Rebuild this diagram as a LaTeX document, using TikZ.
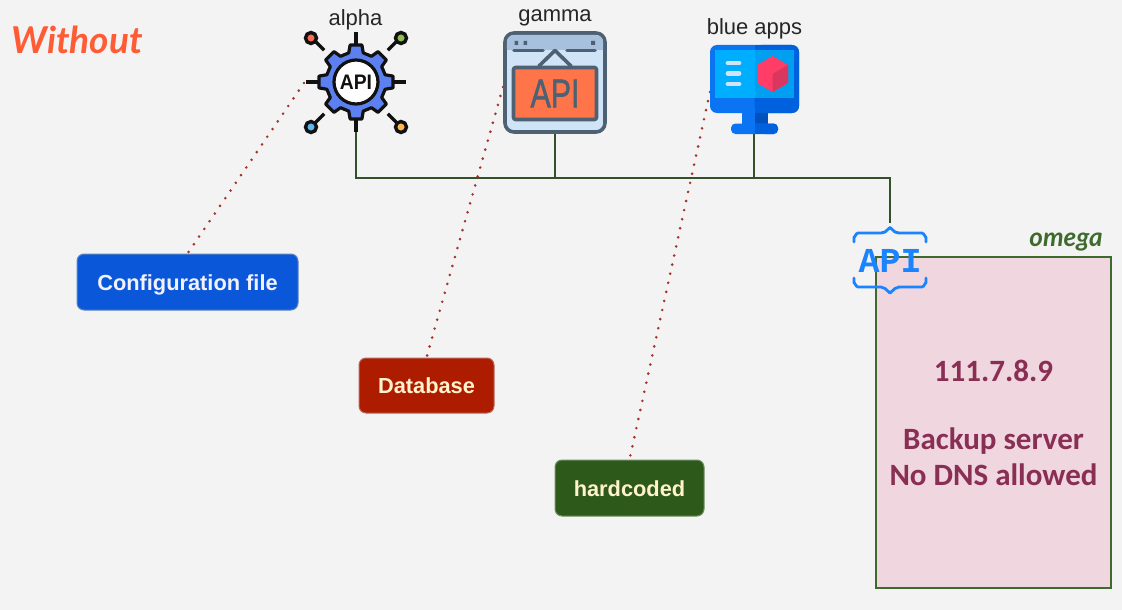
\documentclass[tikz,border=0pt]{standalone}
\usepackage{fontspec}
\setmainfont{Liberation Sans}
\newfontfamily\servfont{Carlito}
\newfontfamily\handfont{Lato}
\newfontfamily\apimono{Liberation Mono}
\newfontfamily\gamfont[FakeBold=1.6]{Liberation Sans}
\definecolor{bgc}{HTML}{F3F3F3}
\definecolor{linec}{HTML}{34502B}
\definecolor{dotc}{HTML}{A5332C}
\definecolor{gearblue}{HTML}{5C80F0}
\definecolor{ink}{HTML}{111111}
\definecolor{slatec}{HTML}{4E6172}
\definecolor{paleblue}{HTML}{CFE4F7}
\definecolor{headblue}{HTML}{A6C0DE}
\definecolor{apiorange}{HTML}{FF7549}
\definecolor{monblue}{HTML}{0A74F2}
\definecolor{mondark}{HTML}{0061DE}
\definecolor{neckdark}{HTML}{0050BE}
\definecolor{scrblue}{HTML}{00AEFF}
\definecolor{scrdark}{HTML}{009FF0}
\definecolor{cubered}{HTML}{FF3D66}
\definecolor{cubedark}{HTML}{D93660}
\definecolor{apiblue}{HTML}{1A84FF}
\definecolor{pinkbox}{HTML}{F0D6DE}
\definecolor{omegagreen}{HTML}{3F6A2E}
\definecolor{servtext}{HTML}{8A2F54}
\definecolor{creamtext}{HTML}{FFF2CC}
\definecolor{cfgfill}{HTML}{0B57D9}
\definecolor{cfgline}{HTML}{5F86C0}
\definecolor{dbfill}{HTML}{AE1C00}
\definecolor{dbline}{HTML}{B5695C}
\definecolor{hcfill}{HTML}{2D5A1B}
\definecolor{hcline}{HTML}{6F8F62}
\definecolor{orangehand}{HTML}{FF5C35}
\definecolor{pinred}{HTML}{FF6B50}
\definecolor{pingreen}{HTML}{8FBF50}
\definecolor{pinblue}{HTML}{5BB8F0}
\definecolor{pinorange}{HTML}{FFB84D}
\tikzset{
  x=1pt,y=-1pt,
  applabel/.style={font=\fontsize{22}{24}\selectfont,text=black!85,inner sep=0pt},
  bus/.style={draw=linec,line width=2.6pt},
  dotline/.style={draw=dotc,line width=2.9pt,line cap=round,dash pattern=on 0pt off 9.3pt},
  srcbox/.style={rounded corners=7pt,line width=1pt,inner sep=0pt,text height=16pt,text depth=0pt,font=\bfseries\fontsize{21.8}{25}\selectfont},
  servtxt/.style={font=\servfont\bfseries\fontsize{31}{35}\selectfont,text=servtext,inner sep=0pt},
  spoke/.style={draw=ink,line width=3.4pt},
  pinhead/.style={draw=ink,line width=3.4pt},
  braceline/.style={draw=apiblue,line width=2.8pt,line cap=round,line join=round},
  slateline/.style={draw=slatec,line width=3.6pt,line cap=round,line join=round},
  bar/.style={draw=paleblue,line width=4.8pt,line cap=round},
}
\begin{document}
\begin{tikzpicture}
\useasboundingbox (0,0) rectangle (1122,610);
\fill[bgc] (0,0) rectangle (1122,610);

% icon footprints
\node[inner sep=0pt,minimum width=102pt,minimum height=82pt] (alpha) at (356,82) {};
\node[inner sep=0pt,minimum width=102pt,minimum height=102pt] (gamma) at (555,82.5) {};
\node[inner sep=0pt,minimum width=90pt,minimum height=89pt] (blue) at (754,89.5) {};
\coordinate (busA) at (356,178);
\coordinate (busB) at (555,178);
\coordinate (busC) at (754,178);
\coordinate (busD) at (890,178);
\coordinate (apiTop) at (890,223);
\coordinate (dotA) at (304,83);
\coordinate (dotB) at (503,87);
\coordinate (dotC) at (710,92);

% omega box
\node[draw=omegagreen,fill=pinkbox,line width=2.2pt,minimum width=235pt,minimum height=331pt,inner sep=0pt] (omega) at (993.5,422.5) {};
\node[font=\handfont\bfseries\itshape\fontsize{26}{28}\selectfont,text=omegagreen,inner sep=0pt] (omegalab) at (1066,242) {omega};
\node[servtxt] (ip) at (993.5,371) {111.7.8.9};
\node[servtxt] (srv1) at (993.5,441) {Backup server};
\node[servtxt] (srv2) at (993.5,475) {No DNS allowed};

% bus
\draw[bus] (alpha.south) -- (busA) -- (busD) -- (apiTop);
\draw[bus] (gamma.south) -- (busB);
\draw[bus] (blue.south) -- (busC);

% source boxes
\node[srcbox,draw=cfgline,fill=cfgfill,text=white!95!blue,minimum width=221pt,minimum height=56pt] (cfg) at (187.5,282) {Configuration file};
\node[srcbox,draw=dbline,fill=dbfill,text=creamtext,minimum width=135pt,minimum height=55pt] (db) at (426.5,385.5) {Database};
\node[srcbox,draw=hcline,fill=hcfill,text=creamtext,minimum width=149pt,minimum height=56pt] (hc) at (629.5,488) {hardcoded};

% dotted links
\draw[dotline] (dotA) -- (cfg.north);
\draw[dotline] (dotB) -- (db.north);
\draw[dotline] (dotC) -- (hc.north);

% labels
\node[applabel] (alab) at (355.5,19.5) {alpha};
\node[applabel] (glab) at (555,17.5) {gamma};
\node[applabel] (blab) at (754.5,29) {blue apps};
\node[font=\handfont\bfseries\itshape\fontsize{37}{40}\selectfont,text=orangehand,inner sep=0pt] (without) at (77,40) {Without};

% alpha gear icon
\begin{scope}[shift={(356,82)}]
  \foreach \a in {0,90,180,270} \draw[spoke] (\a:36) -- (\a:50);
  \foreach \a in {45,135,225,315} {
    \draw[spoke] (\a:45) -- (\a:58);
  }
  \filldraw[fill=pinred,pinhead] (-45,-44) circle (5.5);
  \filldraw[fill=pingreen,pinhead] (45,-44) circle (5.5);
  \filldraw[fill=pinblue,pinhead] (-45,45) circle (5.5);
  \filldraw[fill=pinorange,pinhead] (45,45) circle (5.5);
  \filldraw[fill=gearblue,draw=ink,line width=3.2pt,line join=round]
    (-14:30) \foreach \a in {0,45,...,315} {
      -- (\a-14:30) -- (\a-9:37.5) -- (\a+9:37.5) -- (\a+14:30)
    } -- cycle;
  \filldraw[fill=white,draw=ink,line width=3.2pt] (0,0) circle (22);
  \node[font=\bfseries\fontsize{21}{23}\selectfont,text=ink,inner sep=0pt,xscale=.92,transform shape] (gearapi) at (0,0.5) {API};
\end{scope}

% gamma window icon
\filldraw[fill=paleblue,slateline,rounded corners=9pt] (505,33) rectangle (605,132);
\fill[headblue,rounded corners=8pt] (506.8,34.8) rectangle (603.2,56);
\fill[paleblue] (506.8,50) rectangle (603.2,56);
\fill[slatec] (514.5,41) rectangle (518,45) (523.5,41) rectangle (527,45) (591,41) rectangle (595,45);
\draw[slateline] (514,50.5) -- (543,50.5) (567,50.5) -- (595,50.5);
\draw[slateline] (539,66) -- (555,50.5) -- (571,66);
\filldraw[fill=apiorange,slateline,rounded corners=2pt] (513.5,67.5) rectangle (596.5,119.5);
\node[font=\gamfont\fontsize{40}{44}\selectfont,text=slatec,inner sep=0pt,xscale=.76,transform shape] (gamapi) at (555,93.5) {API};

% blue apps monitor icon
\fill[monblue,rounded corners=7pt] (710,45) rectangle (799,113);
\fill[mondark,rounded corners=7pt] (754.5,45) rectangle (799,113);
\fill[mondark] (754.5,45) rectangle (760,113);
\fill[scrblue] (715,50) rectangle (794,98);
\fill[scrdark] (754.5,50) rectangle (794,98);
\fill[monblue] (742,113) rectangle (754.5,125);
\fill[neckdark] (754.5,113) rectangle (768,125);
\fill[monblue,rounded corners=4.5pt] (731,123.5) rectangle (778,134);
\fill[mondark] (754.5,123.5) rectangle (770,134);
\fill[mondark,rounded corners=4.5pt] (760,123.5) rectangle (778,134);
\draw[bar] (728,63) -- (739,63) (728,73.5) -- (739,73.5) (728,84) -- (739,84);
\fill[cubered] (772.5,56) -- (788,65) -- (788,83) -- (772.5,92) -- (757,83) -- (757,65) -- cycle;
\fill[cubedark] (772.5,74) -- (788,65) -- (788,83) -- (772.5,92) -- cycle;

% omega API icon
\draw[braceline] (854,242) -- (854,237) to[out=-90,in=180] (858,233) -- (881,233) -- (885,232) -- (890,227.5) -- (895,232) -- (899,233) -- (922,233) to[out=0,in=-90] (926,237) -- (926,242);
\draw[braceline] (854,278) -- (854,283) to[out=90,in=180] (858,287) -- (881,287) -- (885,288.5) -- (890,293) -- (895,288.5) -- (899,287) -- (922,287) to[out=0,in=90] (926,283) -- (926,278);
\node[font=\apimono\bfseries\fontsize{35}{38}\selectfont,text=apiblue,inner sep=0pt] (omapi) at (890,260.5) {API};
\end{tikzpicture}
\end{document}
